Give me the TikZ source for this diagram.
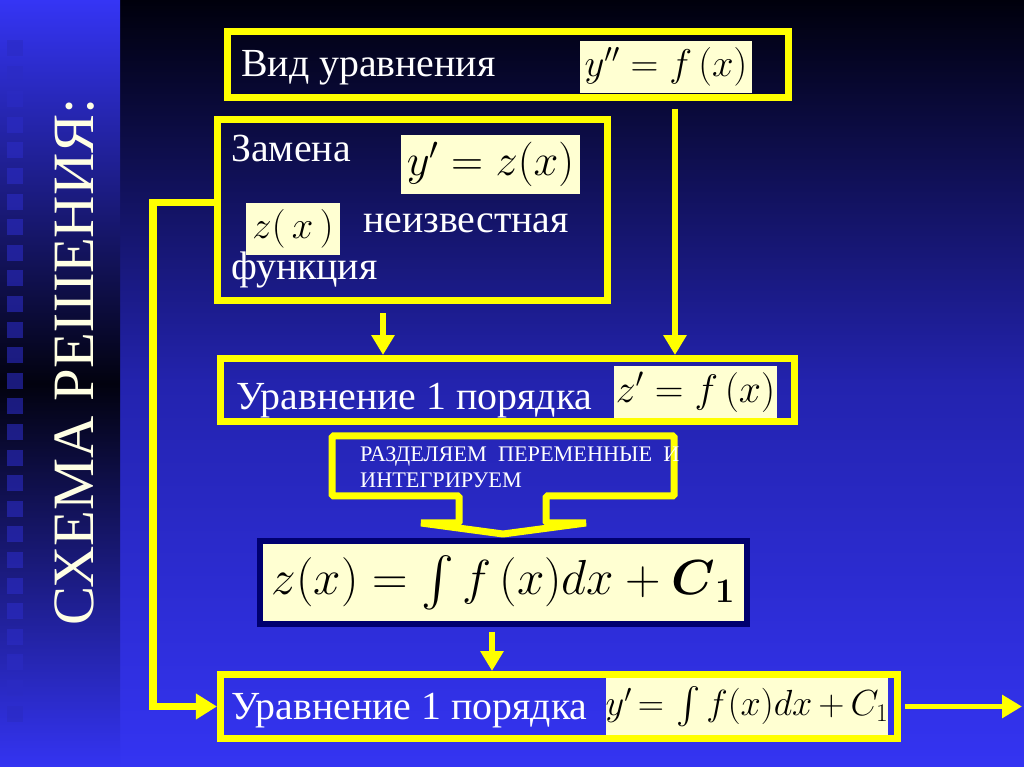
\RequirePackage{fix-cm}
\documentclass[tikz,border=0pt]{standalone}
\usepackage{amsmath,amssymb}
\usepackage[no-math]{fontspec}
\setmainfont{Liberation Serif}
\usepackage{tikz}
\usetikzlibrary{
  arrows.meta,
  positioning,
  calc,
}
\definecolor{hiYellow}{HTML}{FFFF00}
\definecolor{cream}{HTML}{FFFFD2}
\definecolor{navyRim}{HTML}{000070}
\definecolor{titleCol}{HTML}{FFFFE4}
\definecolor{bgTop}{HTML}{00000C}
\definecolor{bgMid}{HTML}{2323AE}
\definecolor{bgBot}{HTML}{3434F2}
\definecolor{stripTop}{HTML}{3535F5}
\definecolor{stripMid}{HTML}{02020F}
\definecolor{squareCol}{HTML}{2B2BC4}
\tikzset{
  yelbox/.style={
    rectangle, draw=hiYellow, line width=0.21cm, inner sep=0pt,
  },
  formbox/.style={
    rectangle, fill=cream, inner sep=0pt, text=black,
  },
  bodytext/.style={
    inner sep=0pt, text=white, anchor=base west,
    font=\fontsize{34}{37}\selectfont,
  },
  arrowThin/.style={
    -{Triangle[length=17pt,width=19pt]}, line width=4.3pt, draw=hiYellow,
  },
  arrowThick/.style={
    -{Triangle[length=18pt,width=21pt]}, line width=6pt, draw=hiYellow,
  },
}

\begin{document}
\begin{tikzpicture}[x=0.03cm, y=-0.03cm]
\useasboundingbox (0,0) rectangle (1024,767);

% Background
\shade[top color=bgTop, bottom color=bgBot, middle color=bgMid] (120,0) rectangle (1024,767);
\shade[top color=stripTop, bottom color=bgBot, middle color=stripMid] (0,0) rectangle (120,767);
\foreach \k in {0,...,26}
  \fill[squareCol, opacity=0.6] (7, 40+25.6*\k) rectangle +(16,16);

% Title
\node[rotate=90, text=titleCol, font=\fontsize{50}{54}\selectfont] (title) at (75,362) {СХЕМА РЕШЕНИЯ:};

% Equation type
\node[yelbox, minimum width=16.8cm, minimum height=1.98cm] (vid) at (508,65) {};
\node[bodytext] (vidtxt) at (241,77) {Вид уравнения};
\node[formbox, minimum width=5.16cm, minimum height=1.56cm, font=\fontsize{33}{36}\selectfont] (f1) at (666,67) {$y''=f\,(x)$};

% Substitution
\node[yelbox, minimum width=11.67cm, minimum height=5.4cm] (zam) at (412.5,210) {};
\node[bodytext] (zamtxt) at (231,162) {Замена};
\node[formbox, minimum width=5.37cm, minimum height=1.77cm, font=\fontsize{38}{42}\selectfont] (f2) at (490.5,164.5) {$y'=z(x)$};
\node[formbox, minimum width=2.82cm, minimum height=1.56cm, font=\fontsize{33}{36}\selectfont] (f3) at (293,229) {$z(\,x\,)$};
\node[bodytext] (unk) at (363,233) {неизвестная};
\node[bodytext] (fun) at (231,280) {функция};

% First order equation
\node[yelbox, minimum width=17.22cm, minimum height=1.89cm] (ord1) at (507.5,390) {};
\node[bodytext] (ord1txt) at (236,410) {Уравнение 1 порядка};
\node[formbox, minimum width=4.89cm, minimum height=1.56cm, font=\fontsize{34}{38}\selectfont] (f4) at (695.5,392) {$z'=f\,(x)$};

% Separate and integrate
\draw[hiYellow, line width=0.21cm, line join=bevel] (459,496) -- (332,496) -- (332,436) -- (674,436) -- (674,496)
  -- (546,496) -- (546,523) -- (586,523) -- (503,534) -- (421,523) -- (459,523) -- cycle;
\node[bodytext, font=\fontsize{19}{22}\selectfont] (sepA) at (360,462) {РАЗДЕЛЯЕМ\ \ ПЕРЕМЕННЫЕ\ \ И};
\node[bodytext, font=\fontsize{19}{22}\selectfont] (sepB) at (360,488) {ИНТЕГРИРУЕМ};

% Integral
\node[formbox, draw=navyRim, line width=0.18cm, minimum width=14.61cm, minimum height=2.49cm,
  font=\fontsize{42}{46}\selectfont] (intz) at (503.5,582.5) {$z(x)=\int f\,(x)dx+\boldsymbol{C}_{\boldsymbol{1}}$};

% Second first order equation
\node[yelbox, minimum width=20.31cm, minimum height=1.92cm] (ord2) at (559,706.5) {};
\node[bodytext] (ord2txt) at (231,719) {Уравнение 1 порядка};
\node[formbox, minimum width=8.46cm, minimum height=1.71cm, font=\fontsize{31}{34}\selectfont] (f5) at (747,706.5)
  {$y'{\,=\,}\int f(x)dx{\,+\,}C_1$};

% Connectors
\coordinate (lv) at (383,0);
\coordinate (rv) at (675,0);
\coordinate (mv) at (492,0);
\coordinate (bend) at (153,0);
\coordinate (exit) at (1022,706.5);
\draw[arrowThin, shorten <=8pt] (zam.south -| lv) -- (ord1.north -| lv);
\draw[arrowThin, shorten <=6pt] (vid.south -| rv) -- (ord1.north -| rv);
\draw[arrowThin, shorten <=4pt] (intz.south -| mv) -- (ord2.north -| mv);
\draw[arrowThick] ([yshift=6pt]zam.west) -| (bend |- ord2.west) -- (ord2.west);
\draw[arrowThin, shorten <=3pt] (ord2.east) -- (exit);

\end{tikzpicture}
\end{document}
